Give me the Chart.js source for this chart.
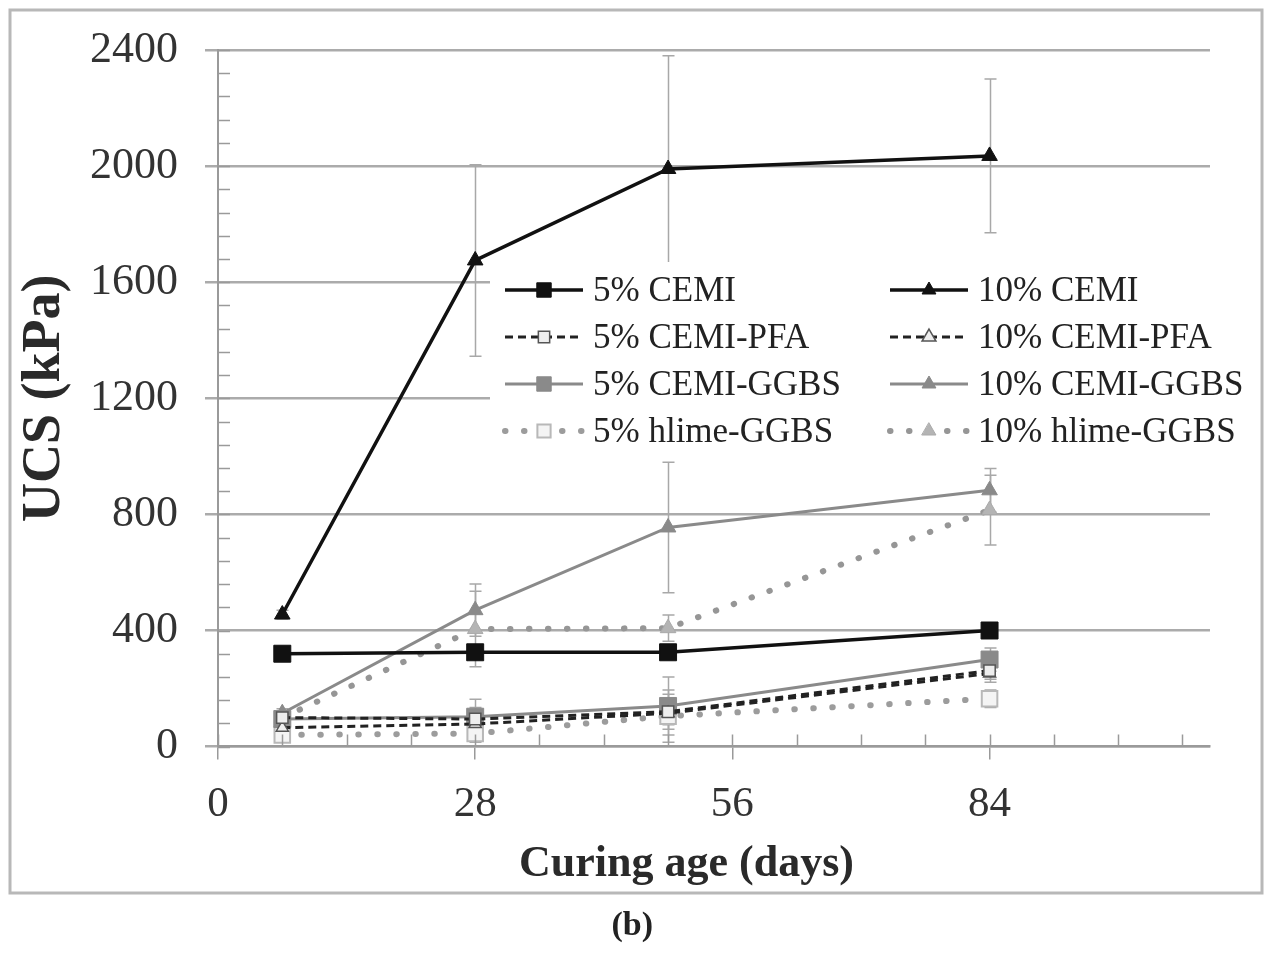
<!DOCTYPE html>
<html><head><meta charset="utf-8">
<script src="https://cdn.jsdelivr.net/npm/chart.js@4/dist/chart.umd.min.js"></script>
<style>html,body{margin:0;padding:0;background:#fff}#wrap{width:1267px;height:961px;position:relative}</style>
</head><body><div id="wrap"><canvas id="c" width="1267" height="961"></canvas></div>
<script>
// ---- data ----
const curingDays = [7, 28, 49, 84];
const xTickValues = [0, 28, 56, 84];
const yTickValues = [0, 400, 800, 1200, 1600, 2000, 2400];

const cem10 = [455, 1675, 1990, 2035];
const cem5 = [320, 325, 325, 400];
const pfa5 = [100, 95, 120, 262];
const pfa10 = [65, 78, 115, 252];
const ggbs5 = [95, 103, 140, 300];
const ggbs10 = [115, 470, 755, 883];
const hlime10 = [100, 405, 408, 815];
const hlime5 = [40, 45, 105, 165];

const cem10Err = [15, 330, 390, 265];
const cem5Err = [15, 20, 20, 15];
const pfa5Err = [10, 40, 60, 30];
const pfa10Err = [10, 30, 40, 30];
const ggbs5Err = [20, 60, 100, 40];
const ggbs10Err = [15, 90, 225, 75];
const hlime10Err = [15, 130, 45, 120];
const hlime5Err = [10, 30, 90, 30];

const legendRows = [
  ['5% CEMI', '10% CEMI'],
  ['5% CEMI-PFA', '10% CEMI-PFA'],
  ['5% CEMI-GGBS', '10% CEMI-GGBS'],
  ['5% hlime-GGBS', '10% hlime-GGBS']
];

const pts = arr => arr.map((v, i) => ({x: curingDays[i], y: v}));

const datasets = [
  {label: '10% CEMI', data: pts(cem10), err: cem10Err, borderColor: '#111', backgroundColor: '#111', borderWidth: 3.5, pointStyle: 'triangle', pointRadius: 9, pointBorderWidth: 1, pointBorderColor: '#111', pointBackgroundColor: '#111'},
  {label: '5% CEMI', data: pts(cem5), err: cem5Err, borderColor: '#111', backgroundColor: '#111', borderWidth: 3.5, pointStyle: 'rect', pointRadius: 12, pointBorderWidth: 1, pointBorderColor: '#111', pointBackgroundColor: '#111'},
  {label: '5% CEMI-PFA', data: pts(pfa5), err: pfa5Err, borderColor: '#222', backgroundColor: '#fff', borderWidth: 3, borderDash: [8, 5], pointStyle: 'rect', pointRadius: 8, pointBorderWidth: 1.5, pointBorderColor: '#555', pointBackgroundColor: '#eee'},
  {label: '10% CEMI-PFA', data: pts(pfa10), err: pfa10Err, borderColor: '#222', backgroundColor: '#fff', borderWidth: 3, borderDash: [8, 5], pointStyle: 'triangle', pointRadius: 7, pointBorderWidth: 1.5, pointBorderColor: '#555', pointBackgroundColor: '#eee'},
  {label: '5% CEMI-GGBS', data: pts(ggbs5), err: ggbs5Err, borderColor: '#8a8a8a', backgroundColor: '#8a8a8a', borderWidth: 3, pointStyle: 'rect', pointRadius: 12, pointBorderWidth: 1, pointBorderColor: '#8a8a8a', pointBackgroundColor: '#8a8a8a'},
  {label: '10% CEMI-GGBS', data: pts(ggbs10), err: ggbs10Err, borderColor: '#8a8a8a', backgroundColor: '#8a8a8a', borderWidth: 3, pointStyle: 'triangle', pointRadius: 9, pointBorderWidth: 1, pointBorderColor: '#8a8a8a', pointBackgroundColor: '#8a8a8a'},
  {label: '10% hlime-GGBS', data: pts(hlime10), err: hlime10Err, borderColor: '#969696', backgroundColor: '#aaa', borderWidth: 6, borderDash: [0.5, 18.5], borderCapStyle: 'round', pointStyle: 'triangle', pointRadius: 9, pointBorderWidth: 1, pointBorderColor: '#aaa', pointBackgroundColor: '#b4b4b4'},
  {label: '5% hlime-GGBS', data: pts(hlime5), err: hlime5Err, borderColor: '#9c9c9c', backgroundColor: '#fff', borderWidth: 6, borderDash: [0.5, 18.5], borderCapStyle: 'round', pointStyle: 'rect', pointRadius: 11, pointBorderWidth: 2, pointBorderColor: '#b8b8b8', pointBackgroundColor: '#f4f4f4'}
];
datasets.forEach(d => { d.fill = false; d.tension = 0; d.clip = false; });

const serif = '"Liberation Serif", "Times New Roman", serif';

const framePlugin = {
  id: 'frame',
  beforeDraw(chart) {
    const ctx = chart.ctx;
    ctx.save();
    ctx.fillStyle = '#fff';
    ctx.fillRect(0, 0, chart.width, chart.height);
    ctx.strokeStyle = '#b8b8b8';
    ctx.lineWidth = 3;
    ctx.strokeRect(10, 10, 1252, 883);
    ctx.restore();
  }
};

const minorTickPlugin = {
  id: 'minorTicks',
  afterDraw(chart) {
    const ctx = chart.ctx, xs = chart.scales.x, ys = chart.scales.y, a = chart.chartArea;
    ctx.save();
    ctx.strokeStyle = '#9a9a9a';
    ctx.lineWidth = 1.5;
    ctx.beginPath();
    for (let v = ys.min; v <= ys.max; v += 80) {
      const y = Math.round(ys.getPixelForValue(v)) + 0.5;
      ctx.moveTo(a.left, y); ctx.lineTo(a.left + 12, y);
    }
    for (let v = xs.min; v <= xs.max; v += 7) {
      const x = Math.round(xs.getPixelForValue(v)) + 0.5;
      ctx.moveTo(x, a.bottom); ctx.lineTo(x, a.bottom - 12);
    }
    ctx.stroke();
    ctx.restore();
  }
};

const errorBarPlugin = {
  id: 'errorBars',
  beforeDatasetsDraw(chart) {
    const ctx = chart.ctx, xs = chart.scales.x, ys = chart.scales.y;
    ctx.save();
    ctx.strokeStyle = '#a8a8a8';
    ctx.lineWidth = 1.5;
    chart.data.datasets.forEach(ds => {
      if (!ds.err) return;
      ds.data.forEach((p, i) => {
        const e = ds.err[i];
        const x = Math.round(xs.getPixelForValue(p.x)) + 0.5;
        const y1 = ys.getPixelForValue(p.y + e), y2 = ys.getPixelForValue(Math.max(0, p.y - e));
        ctx.beginPath();
        ctx.moveTo(x, y1); ctx.lineTo(x, y2);
        ctx.moveTo(x - 6, y1); ctx.lineTo(x + 6, y1);
        ctx.moveTo(x - 6, y2); ctx.lineTo(x + 6, y2);
        ctx.stroke();
      });
    });
    ctx.restore();
  }
};

const legendPlugin = {
  id: 'innerLegend',
  afterDraw(chart) {
    const ctx = chart.ctx;
    const colX = [505, 890];
    const rowY0 = 290, rowStep = 47, sampleLen = 78;
    ctx.save();
    ctx.fillStyle = '#fff';
    ctx.fillRect(490, 262, 762, 193);
    legendRows.forEach((row, r) => {
      row.forEach((label, c) => {
        const ds = chart.data.datasets.find(d => d.label === label);
        const x0 = colX[c], y = rowY0 + r * rowStep;
        ctx.save();
        ctx.strokeStyle = ds.borderColor;
        ctx.lineWidth = ds.borderWidth;
        ctx.lineCap = ds.borderCapStyle || 'butt';
        ctx.setLineDash(ds.borderDash || []);
        ctx.beginPath();
        ctx.moveTo(x0, y); ctx.lineTo(x0 + sampleLen, y);
        ctx.stroke();
        ctx.setLineDash([]);
        ctx.fillStyle = ds.pointBackgroundColor;
        ctx.strokeStyle = ds.pointBorderColor;
        ctx.lineWidth = ds.pointBorderWidth;
        Chart.helpers.drawPoint(ctx, {pointStyle: ds.pointStyle, radius: Math.max(8, ds.pointRadius * 0.85), borderWidth: ds.pointBorderWidth, rotation: 0}, x0 + sampleLen / 2, y);
        ctx.restore();
        ctx.fillStyle = '#222';
        ctx.font = '35px ' + serif;
        ctx.textBaseline = 'middle';
        ctx.textAlign = 'left';
        ctx.fillText(label, x0 + sampleLen + 10, y + 2);
      });
    });
    ctx.restore();
  }
};

new Chart(document.getElementById('c'), {
  type: 'line',
  data: {datasets},
  options: {
    responsive: false,
    devicePixelRatio: 1,
    animation: false,
    layout: {padding: {left: 12, right: 57, top: 50, bottom: 4}},
    plugins: {
      legend: {display: false},
      tooltip: {enabled: false},
      title: {
        display: true, position: 'bottom', text: '     (b)',
        font: {family: serif, size: 34, weight: 'bold', lineHeight: 1.1},
        color: '#222', padding: {top: 15, bottom: 12}
      }
    },
    scales: {
      x: {
        type: 'linear', min: 0, max: 108,
        afterBuildTicks: s => { s.ticks = xTickValues.map(v => ({value: v})); },
        afterFit: s => { s.height = 146; },
        grid: {drawOnChartArea: false, drawTicks: true, tickLength: 13, color: '#9a9a9a', lineWidth: 1.5},
        border: {color: '#9a9a9a', width: 2.5},
        ticks: {font: {family: serif, size: 43, lineHeight: 1}, color: '#333', padding: 24, maxRotation: 0, callback: v => String(v)},
        title: {display: true, text: 'Curing age (days)     ', font: {family: serif, size: 44, weight: 'bold', lineHeight: 1}, color: '#2a2a2a', padding: {top: 0, bottom: 6}}
      },
      y: {
        type: 'linear', min: 0, max: 2400,
        afterBuildTicks: s => { s.ticks = yTickValues.map(v => ({value: v})); },
        afterFit: s => { s.width = 206; },
        grid: {drawOnChartArea: true, drawTicks: true, tickLength: 13, color: '#ababab', lineWidth: 2.5},
        border: {color: '#9a9a9a', width: 2},
        ticks: {font: {family: serif, size: 44, lineHeight: 1}, color: '#333', padding: 27, callback: v => String(v)},
        title: {display: true, text: 'UCS (kPa)', font: {family: serif, size: 54, weight: 'bold', lineHeight: 1}, color: '#2a2a2a', padding: {top: 6, bottom: 0}}
      }
    }
  },
  plugins: [framePlugin, errorBarPlugin, minorTickPlugin, legendPlugin]
});
</script>
</body></html>
